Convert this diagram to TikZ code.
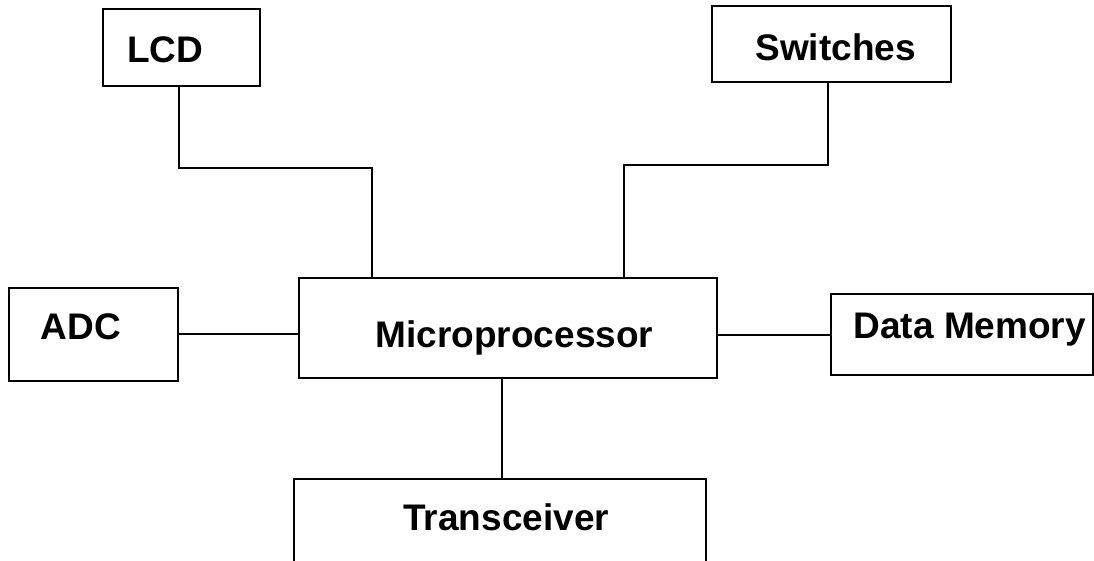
\documentclass[tikz,border=0pt]{standalone}
\usepackage{fontspec}
\setmainfont{Liberation Sans}
\usepackage{tikz}
\usetikzlibrary{positioning, calc}

\begin{document}
\begin{tikzpicture}[x=1pt, y=-1pt,
    blockbox/.style={draw=black, line width=2pt, rectangle, inner sep=0pt, outer sep=0pt},
    blocktext/.style={font=\fontsize{37}{44}\selectfont\bfseries, text height=26.5pt, text depth=0pt, inner sep=0pt},
    wire/.style={draw=black, line width=2pt}]
  \useasboundingbox (0,0) rectangle (1094,561);
  % blocks
  \node[blockbox, minimum width=157pt, minimum height=77pt,
    label={[blocktext, xshift=-16pt, yshift=-1pt]center:LCD}] (lcd) at (181.3,48) {};
  \node[blockbox, minimum width=239pt, minimum height=76pt,
    label={[blocktext, xshift=4pt, yshift=-3.7pt]center:Switches}] (sw) at (831.7,43.8) {};
  \node[blockbox, minimum width=169pt, minimum height=93pt,
    label={[blocktext, xshift=-13pt, yshift=8.5pt]center:ADC}] (adc) at (93.8,334.3) {};
  \node[blockbox, minimum width=418pt, minimum height=100pt,
    label={[blocktext, xshift=7pt, yshift=-5.5pt]center:Microprocessor}] (mp) at (507.5,328.3) {};
  \node[blockbox, minimum width=262pt, minimum height=81pt,
    label={[blocktext, xshift=8pt, yshift=9.7pt]center:Data Memory}] (dm) at (961.8,334.7) {};
  \node[blockbox, minimum width=412pt, minimum height=121pt,
    label={[blocktext, xshift=6pt, yshift=22pt]center:Transceiver}] (trx) at (500.2,539.5) {};
  % bends
  \coordinate (lcdbend) at (371.7,168);
  \coordinate (swbend) at (624.3,165);
  % wires
  \draw[wire] ([xshift=-2pt]lcd.south) |- (lcdbend) -- (lcdbend |- mp.north);
  \draw[wire] ([xshift=-4pt]sw.south) |- (swbend) -- (swbend |- mp.north);
  \draw[wire] (adc.east) -- (adc.east -| mp.west);
  \draw[wire] (dm.west) -- (dm.west -| mp.east);
  \draw[wire] ([xshift=2pt]trx.north) -- ([xshift=2pt]trx.north |- mp.south);
\end{tikzpicture}
\end{document}
